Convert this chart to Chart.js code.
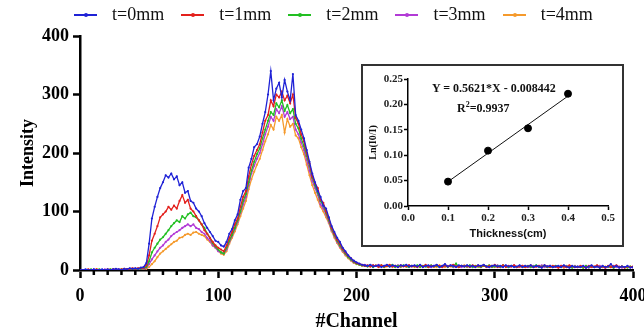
<!DOCTYPE html>
<html>
<head>
<meta charset="utf-8">
<script src="https://cdn.jsdelivr.net/npm/chart.js@4.4.1/dist/chart.umd.min.js"></script>
<style>
  body { margin: 0; background: #fff; overflow: hidden; }
  #wrap { position: relative; width: 644px; height: 334px; }
  #main { position: absolute; left: 0; top: 0; }
  #legend { position: absolute; left: 74px; top: 4px; display: flex; align-items: center;
            font: 18px "Liberation Serif", "Times New Roman", serif; color: #111; }
  .item { display: flex; align-items: center; margin-right: 17px; }
  .swatch { position: relative; width: 23px; height: 2px; margin-right: 15px; }
  .swatch i { position: absolute; left: 10px; top: -1px; width: 4px; height: 4px; border-radius: 2px; }
  #inset { position: absolute; left: 361px; top: 64px; width: 263px; height: 183px;
           border: 2px solid #333; box-sizing: border-box; background: #fff; }
  #insetChart { position: absolute; left: 0; top: 0; }
  .eq { position: absolute; font: bold 12px "Liberation Serif", "Times New Roman", serif; color: #111; white-space: nowrap; }
</style>
</head>
<body>
<div id="wrap">
  <canvas id="main" width="644" height="334"></canvas>
  <div id="legend"></div>
  <div id="inset">
    <canvas id="insetChart" width="259" height="179"></canvas>
  </div>
  <div class="eq" style="left:432px; top:81px;">Y = 0.5621*X - 0.008442</div>
  <div class="eq" style="left:457px; top:100px;">R<sup style="font-size:8px;">2</sup>=0.9937</div>
</div>
<script>
// channels sampled every 2 (0..400)
const channels = Array.from({ length: 201 }, (_, i) => i * 2);

const seriesNames = ["t=0mm", "t=1mm", "t=2mm", "t=3mm", "t=4mm"];
const seriesColors = ["#1f22d6", "#e3201c", "#22bf22", "#b23ad6", "#f59a2c"];

const t0 = [
  0,0,1,0,0,1,0,0,1,0,1,0,1,2,1,0,2,1,3,2,
  3,2,4,5,12,45,88,108,125,140,150,162,158,165,155,160,145,150,132,135,
  118,115,105,100,92,80,72,65,58,50,48,42,40,48,62,70,85,95,120,135,
  140,175,190,210,215,228,250,270,300,340,290,310,320,295,325,305,290,335,265,255,
  240,225,205,185,165,150,135,125,110,105,90,75,65,55,48,38,32,25,20,16,
  13,11,9,8,7,9,6,7,8,5,7,9,6,8,7,5,8,7,9,6,
  7,8,6,9,5,7,8,6,7,9,5,7,10,6,8,7,5,8,7,6,
  8,6,7,5,8,7,9,6,5,7,8,6,7,5,8,6,7,5,6,8,
  5,7,6,8,5,7,6,4,8,6,7,5,6,7,5,8,6,4,7,5,
  6,5,7,4,6,8,5,6,4,7,5,6,10,5,7,4,6,5,7,4,
  5
];
const t1 = [
  0,0,0,1,0,0,1,0,0,0,1,0,1,1,0,1,2,1,2,3,
  2,3,3,4,8,25,50,62,75,90,95,100,108,103,110,105,118,128,115,120,
  105,100,92,85,78,68,62,55,48,42,38,35,32,42,55,65,78,88,108,125,
  135,160,180,195,205,215,235,255,265,290,280,300,295,305,290,298,285,300,260,250,
  232,220,200,182,160,148,140,120,115,100,88,72,62,52,45,36,30,24,20,15,
  12,10,9,7,8,6,8,7,5,8,6,7,9,6,7,5,8,6,7,8,
  6,7,5,8,6,9,5,7,6,8,7,5,8,6,7,9,6,5,7,6,
  7,5,8,6,7,6,8,5,7,6,9,5,6,8,5,7,6,8,5,6,
  7,5,6,8,5,6,7,5,8,6,5,7,6,4,7,6,5,8,6,5,
  5,7,6,4,7,5,6,8,5,6,4,7,5,6,8,5,6,4,6,5,
  6
];
const t2 = [
  0,0,0,0,1,0,0,1,0,0,0,1,0,1,0,1,1,0,1,2,
  1,2,2,3,5,15,30,38,45,52,56,62,68,75,80,85,82,92,88,95,
  98,92,90,85,78,72,62,55,46,40,35,30,28,38,50,60,72,85,100,118,
  130,150,170,185,198,208,225,240,255,270,265,285,278,290,272,282,268,275,250,242,
  225,212,195,178,158,145,132,118,110,98,85,70,60,50,42,35,28,22,18,14,
  11,9,8,7,6,8,5,7,6,8,5,7,6,9,5,7,6,8,6,5,
  7,6,8,5,7,6,5,8,6,7,5,6,8,5,7,6,11,5,7,6,
  6,8,5,7,6,5,7,6,8,5,6,7,5,8,6,5,7,6,5,7,
  6,5,7,5,6,8,5,6,7,5,6,5,7,6,5,7,5,6,4,6,
  5,6,4,7,5,6,5,7,4,6,5,6,5,4,7,5,6,5,4,6,
  5
];
const t3 = [
  0,0,0,0,0,1,0,0,0,1,0,0,1,0,1,0,1,1,0,1,
  1,1,2,2,4,10,18,25,32,38,42,48,52,58,62,65,68,72,75,78,
  75,78,72,70,65,62,55,50,42,38,32,30,28,35,48,58,70,82,98,112,
  125,145,165,178,190,200,215,232,245,262,255,275,268,280,262,270,258,262,240,232,
  218,205,188,170,152,140,128,112,105,95,82,68,58,48,40,33,27,22,17,13,
  12,10,8,9,7,6,8,7,9,6,7,8,6,7,5,8,6,7,6,8,
  6,7,5,8,6,7,6,5,7,8,6,5,7,6,8,5,7,6,5,7,
  6,7,5,6,8,5,7,6,5,7,6,8,5,6,7,5,6,8,5,6,
  7,5,6,5,7,6,5,8,5,6,7,5,6,5,7,6,5,6,5,7,
  5,6,5,7,4,6,5,6,7,5,4,6,5,7,5,6,4,5,6,5,
  4
];
const t4 = [
  0,0,0,0,0,0,1,0,0,0,0,1,0,0,1,0,0,1,0,1,
  0,1,1,2,2,5,10,15,22,28,32,36,40,44,48,50,55,56,60,62,
  60,64,65,62,60,58,52,48,42,38,33,28,26,32,45,55,66,78,92,105,
  118,138,155,168,180,190,205,220,232,248,240,262,255,265,235,258,245,250,230,225,
  210,198,180,162,145,132,120,108,100,90,80,66,55,46,38,31,25,20,16,12,
  10,9,7,8,6,7,5,8,6,7,5,6,8,5,7,6,5,7,6,5,
  7,5,6,8,5,6,7,5,6,5,8,6,5,7,6,5,7,5,6,8,
  5,6,7,5,6,5,8,6,5,7,5,6,5,7,6,5,6,7,5,6,
  5,7,5,6,5,6,7,5,6,5,7,5,6,5,6,4,7,5,6,5,
  6,5,4,6,5,7,5,6,4,5,6,5,7,4,6,5,6,4,5,6,
  5
];
const seriesValues = [t0, t1, t2, t3, t4];

const xTicks = [0, 100, 200, 300, 400];
const yTicks = [0, 100, 200, 300, 400];

// inset: thickness vs ln(I0/I)
const thickness = [0.1, 0.2, 0.3, 0.4];
const lnRatio = [0.048, 0.109, 0.153, 0.221];
const fitSlope = 0.5621;
const fitIntercept = -0.008442;
const fitRange = [0.1, 0.4];

const serif = '"Liberation Serif", "Times New Roman", serif';

// html legend
const legend = document.getElementById("legend");
seriesNames.forEach((name, i) => {
  const item = document.createElement("div");
  item.className = "item";
  item.innerHTML = `<span class="swatch" style="background:${seriesColors[i]}"><i style="background:${seriesColors[i]}"></i></span><span>${name}</span>`;
  legend.appendChild(item);
});

// short minor ticks on the x axis every 10 channels
const minorTicks = {
  id: "minorTicks",
  afterDraw(chart) {
    const x = chart.scales.x;
    const ctx = chart.ctx;
    ctx.save();
    ctx.strokeStyle = "#000";
    ctx.lineWidth = 2.5;
    for (let v = 10; v < 400; v += 10) {
      if (v % 100 === 0) continue;
      const px = x.getPixelForValue(v);
      ctx.beginPath();
      ctx.moveTo(px, x.top);
      ctx.lineTo(px, x.top + 5);
      ctx.stroke();
    }
    ctx.restore();
  },
};

new Chart(document.getElementById("main"), {
  type: "line",
  data: {
    datasets: seriesValues.map((vals, i) => ({
      label: seriesNames[i],
      data: vals.map((v, j) => ({ x: channels[j], y: v })),
      borderColor: seriesColors[i],
      backgroundColor: seriesColors[i],
      borderWidth: 1.3,
      pointRadius: 1.1,
      pointBorderWidth: 0,
      tension: 0,
    })),
  },
  options: {
    responsive: false,
    animation: false,
    devicePixelRatio: 1,
    layout: { padding: { top: 36, right: 11, left: 0, bottom: 0 } },
    plugins: { legend: { display: false }, tooltip: { enabled: false } },
    scales: {
      x: {
        type: "linear",
        min: 0,
        max: 400,
        afterBuildTicks: (s) => { s.ticks = xTicks.map((v) => ({ value: v })); },
        afterFit: (s) => { s.height = 64; s.paddingRight = 0; },
        border: { color: "#000", width: 2.5 },
        grid: { drawOnChartArea: false, tickLength: 8, tickWidth: 2.5, tickColor: "#000" },
        ticks: { color: "#000", padding: 8, maxRotation: 0, font: { family: serif, size: 18, weight: "bold" } },
        title: { display: true, text: "#Channel", color: "#000", padding: { top: 0, bottom: 0 },
                 font: { family: serif, size: 20, weight: "bold" } },
      },
      y: {
        min: 0,
        max: 400,
        afterBuildTicks: (s) => { s.ticks = yTicks.map((v) => ({ value: v })); },
        afterFit: (s) => { s.width = 80; },
        border: { color: "#000", width: 2.5 },
        grid: { drawOnChartArea: false, tickLength: 7, tickWidth: 2.5, tickColor: "#000" },
        ticks: { color: "#000", padding: 4, font: { family: serif, size: 18, weight: "bold" } },
        title: { display: true, text: "Intensity", color: "#000", padding: { top: 18, bottom: 0 },
                 font: { family: serif, size: 18, weight: "bold" } },
      },
    },
  },
  plugins: [minorTicks],
});

new Chart(document.getElementById("insetChart"), {
  type: "scatter",
  data: {
    datasets: [
      {
        data: thickness.map((t, i) => ({ x: t, y: lnRatio[i] })),
        backgroundColor: "#000",
        borderColor: "#000",
        pointRadius: 3.5,
      },
      {
        type: "line",
        data: fitRange.map((t) => ({ x: t, y: fitSlope * t + fitIntercept })),
        borderColor: "#111",
        borderWidth: 1,
        pointRadius: 0,
      },
    ],
  },
  options: {
    responsive: false,
    animation: false,
    devicePixelRatio: 1,
    layout: { padding: { top: 13, right: 14, left: 0, bottom: 0 } },
    plugins: { legend: { display: false }, tooltip: { enabled: false } },
    scales: {
      x: {
        type: "linear",
        min: 0,
        max: 0.5,
        afterFit: (s) => { s.height = 39; s.paddingRight = 0; },
        border: { color: "#000", width: 1.5 },
        grid: { drawOnChartArea: false, tickLength: 4, tickWidth: 1.5, tickColor: "#000" },
        ticks: { stepSize: 0.1, color: "#222", padding: 2, maxRotation: 0,
                 callback: (v) => v.toFixed(1), font: { family: serif, size: 11, weight: "bold" } },
        title: { display: true, text: "Thickness(cm)", color: "#111", padding: { top: 0, bottom: 4 },
                 font: { family: '"Liberation Sans", Arial, sans-serif', size: 11, weight: "bold" } },
      },
      y: {
        min: 0,
        max: 0.25,
        afterFit: (s) => { s.width = 45; },
        border: { color: "#000", width: 1.5 },
        grid: { drawOnChartArea: false, tickLength: 4, tickWidth: 1.5, tickColor: "#000" },
        ticks: { stepSize: 0.05, color: "#222", padding: 1,
                 callback: (v) => v.toFixed(2), font: { family: serif, size: 11, weight: "bold" } },
        title: { display: true, text: "Ln(I0/I)", color: "#111", padding: { top: 4, bottom: 0 },
                 font: { family: serif, size: 10, weight: "bold" } },
      },
    },
  },
});
</script>
</body>
</html>
